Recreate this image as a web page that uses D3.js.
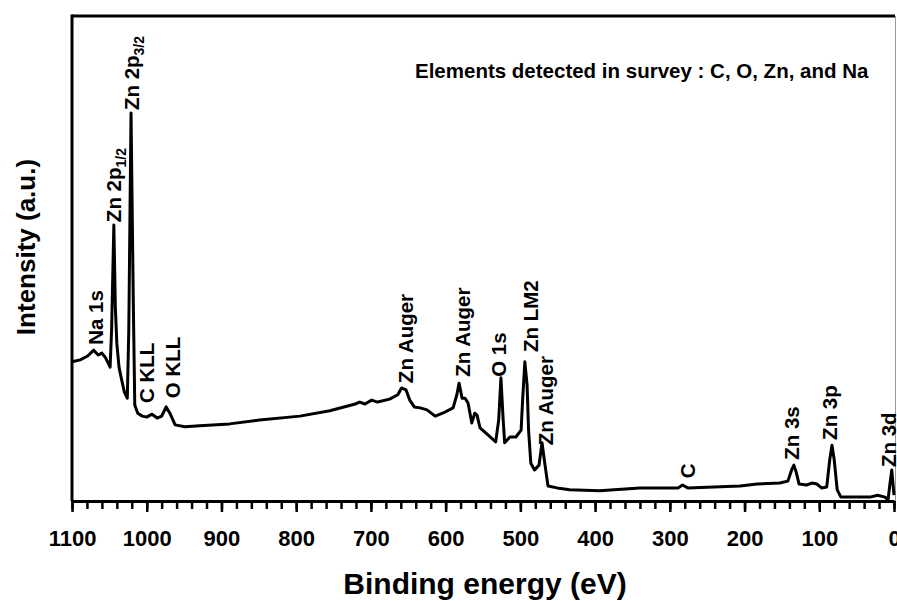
<!DOCTYPE html>
<html>
<head>
<meta charset="utf-8">
<script src="https://cdn.jsdelivr.net/npm/d3@7"></script>
<style>
  body { margin: 0; background: #fff; }
  svg { display: block; font-family: "Liberation Sans", Arial, Helvetica, sans-serif; }
</style>
</head>
<body>
<div class="svg-container"></div>
<script>
// binding energy (eV) and intensity (a.u.)
const energy = [1100, 1089, 1079, 1071, 1065, 1060, 1055, 1049, 1047, 1044, 1042, 1040, 1037, 1033, 1030, 1026,
  1024, 1021, 1018, 1016, 1012, 1006, 1000, 993, 986, 980, 974, 969, 962, 949, 929, 889, 849, 795, 755,
  721, 715, 708, 699, 691, 675, 664, 659, 653, 648, 642, 634, 625, 614, 604, 590, 585, 582, 578, 574,
  570, 565, 561, 558, 554, 543, 533, 529, 526, 523, 521, 514, 506, 499, 497, 494, 491, 489, 486, 481,
  475, 471, 467, 463, 451, 434, 394, 340, 289, 283, 276, 206, 183, 153, 142, 137, 134, 131, 127, 117,
  110, 103, 97, 90, 86, 83, 80, 76, 71, 32, 22, 12, 8, 5.6, 3, 0];
const intensity = [28.7, 29.1, 29.9, 31.1, 30.1, 30.5, 29.5, 27.6, 35.3, 56.9, 40.0, 32.5, 27.5, 24.6, 22.5, 21.2,
  35.3, 80.0, 41.4, 19.8, 18.1, 17.5, 17.3, 17.9, 17.1, 17.5, 19.4, 18.1, 15.7, 15.3, 15.5, 15.9, 16.7, 17.5, 18.6,
  20.0, 20.4, 20.0, 20.8, 20.4, 21.0, 21.9, 23.3, 22.9, 20.8, 19.4, 19.2, 18.8, 17.5, 18.1, 19.2, 21.9, 24.3, 21.2, 21.2,
  20.2, 16.1, 18.1, 17.7, 15.1, 13.6, 12.2, 16.7, 25.4, 16.7, 12.0, 13.2, 13.2, 14.6, 20.8, 28.7, 23.9, 14.6, 7.8, 6.4,
  7.4, 12.0, 7.4, 3.1, 2.7, 2.3, 2.1, 2.7, 2.7, 3.3, 2.7, 3.1, 3.5, 3.7, 4.1, 6.4, 7.4, 6.0, 3.5, 3.3,
  3.7, 3.5, 2.7, 2.9, 8.5, 11.5, 8.5, 2.3, 0.8, 0.8, 1.2, 0.8, 0.2, 3.3, 6.4, 1.2];

// peak labels: name, subscript, energy and intensity of the label foot
const peakNames = ["Na 1s", "Zn 2p", "Zn 2p", "C KLL", "O KLL", "Zn Auger", "Zn Auger", "O 1s", "Zn LM2",
  "Zn Auger", "C", "Zn 3s", "Zn 3p", "Zn 3d"];
const peakSubs = ["", "1/2", "3/2", "", "", "", "", "", "", "", "", "", "", ""];
const peakEnergy = [1069, 1045, 1020, 1000, 966, 654, 577, 529, 487, 467, 277, 137, 86, 8];
const peakLevel = [32.2, 57.5, 80.6, 20.2, 21.2, 24.3, 25.6, 25.6, 30.7, 11.5, 4.7, 8.5, 12.6, 7.0];

const majorTicks = [1100, 1000, 900, 800, 700, 600, 500, 400, 300, 200, 100, 0];
const minorTicks = d3.range(0, 1101, 20);

const note = "Elements detected in survey : C, O, Zn, and Na";

const chartW = 897, chartH = 601;
const plotLeft = 72, plotRight = 894, plotTop = 16, plotBottom = 501;

const svg = d3.select(".svg-container").append("svg")
  .attr("width", chartW).attr("height", chartH);

const x = d3.scaleLinear().domain([1100, 0]).range([plotLeft, plotRight]);
const y = d3.scaleLinear().domain([0, 100]).range([plotBottom, plotTop]);

// frame
svg.append("line").attr("x1", plotLeft).attr("x2", 895).attr("y1", plotTop).attr("y2", plotTop)
  .attr("stroke", "#000").attr("stroke-width", 3);
svg.append("line").attr("x1", plotLeft).attr("x2", plotLeft).attr("y1", plotTop - 1.5).attr("y2", plotBottom)
  .attr("stroke", "#000").attr("stroke-width", 3);
svg.append("line").attr("x1", 895.5).attr("x2", 895.5).attr("y1", plotTop).attr("y2", plotBottom)
  .attr("stroke", "#999").attr("stroke-width", 1);

// minor ticks
const gMinor = svg.append("g").attr("transform", "translate(0," + plotBottom + ")")
  .call(d3.axisBottom(x).tickValues(minorTicks).tickSize(8).tickFormat(""));
gMinor.select(".domain").remove();
gMinor.selectAll("line").attr("stroke-width", 2.5);

// major ticks + labels
const gX = svg.append("g").attr("transform", "translate(0," + plotBottom + ")")
  .call(d3.axisBottom(x).tickValues(majorTicks).tickSize(11).tickSizeOuter(0).tickFormat(d3.format("d")));
gX.select(".domain").attr("stroke-width", 3);
gX.selectAll("line").attr("stroke-width", 2.5);
gX.selectAll("text")
  .attr("y", 45).attr("dy", 0)
  .attr("font-size", 22).attr("font-weight", "bold")
  .attr("font-family", "'Liberation Sans', Arial, sans-serif")
  .attr("fill", "#000");

// spectrum
const line = d3.line()
  .x((d, i) => x(energy[i]))
  .y((d, i) => y(intensity[i]));

svg.append("path")
  .datum(energy)
  .attr("d", line)
  .attr("fill", "none")
  .attr("stroke", "#000")
  .attr("stroke-width", 3)
  .attr("stroke-linejoin", "round");

// peak labels
const labels = svg.selectAll(".peak")
  .data(peakNames)
  .enter().append("text")
  .classed("peak", true)
  .attr("transform", (d, i) => "translate(" + (x(peakEnergy[i]) + 7.5) + "," + y(peakLevel[i]) + ") rotate(-90)")
  .attr("font-size", 20.5)
  .attr("font-weight", "bold")
  .attr("fill", "#000");
labels.append("tspan").text(d => d);
labels.append("tspan")
  .attr("font-size", 14)
  .attr("dy", 5)
  .text((d, i) => peakSubs[i]);

// note
svg.append("text")
  .attr("x", 415).attr("y", 78)
  .attr("font-size", 20.5).attr("font-weight", "bold")
  .text(note);

// axis titles
svg.append("text")
  .attr("x", 485).attr("y", 594)
  .attr("text-anchor", "middle")
  .attr("font-size", 30).attr("font-weight", "bold")
  .text("Binding energy (eV)");

svg.append("text")
  .attr("transform", "translate(35,247) rotate(-90)")
  .attr("text-anchor", "middle")
  .attr("font-size", 26).attr("font-weight", "bold")
  .text("Intensity (a.u.)");
</script>
</body>
</html>
